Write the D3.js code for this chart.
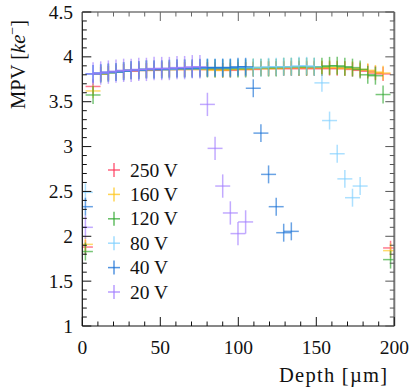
<!DOCTYPE html>
<html>
<head>
<meta charset="utf-8">
<script src="https://cdn.jsdelivr.net/npm/d3@7"></script>
<style>
  body { margin: 0; background: #fff; }
</style>
</head>
<body>
<svg id="chart" width="415" height="391" font-family="'Times New Roman', 'Liberation Serif', Tinos, 'DejaVu Serif', serif"></svg>
<script>
"use strict"

// depth bin centres [um]
const depthBins = [2.0, 6.9, 11.8, 16.7, 21.6, 26.5, 31.3, 36.2, 41.1, 46.0,
    50.9, 55.8, 60.7, 65.6, 70.5, 75.4, 80.2, 85.1, 90.0, 94.9,
    99.8, 104.7, 109.6, 114.5, 119.4, 124.3, 129.1, 134.0, 138.9, 143.8,
    148.7, 153.6, 158.5, 163.4, 168.3, 173.2, 178.1, 183.0, 187.9, 192.8, 197.6]
const depthErr = 4.8

const labels = ["250 V", "160 V", "120 V", "80 V", "40 V", "20 V"]
const colors = ["#ff3355", "#ffc61a", "#2fa82f", "#7fd0ff", "#1a72d6", "#a27cff"]
const mpvErr = [0.08, 0.08, 0.1, 0.1, 0.1, 0.13]

// MPV [ke-] per bin, null where the series has no point
const mpv250 = [1.88, 3.67, 3.81, 3.82, 3.83, 3.84, 3.84, 3.85, 3.85, 3.85,
    3.86, 3.86, 3.86, 3.86, 3.87, 3.86, 3.86, 3.86, 3.85, 3.85,
    3.86, 3.86, 3.86, 3.87, 3.87, 3.87, 3.87, 3.87, 3.87, 3.87,
    3.87, 3.87, 3.87, 3.87, 3.87, 3.86, 3.85, 3.84, 3.82, 3.81, 1.87]
const mpv160 = [1.91, 3.62, 3.81, 3.82, 3.83, 3.84, 3.85, 3.85, 3.85, 3.86,
    3.86, 3.86, 3.86, 3.86, 3.86, 3.86, 3.86, 3.85, 3.85, 3.86,
    3.86, 3.86, 3.87, 3.87, 3.87, 3.87, 3.88, 3.88, 3.88, 3.88,
    3.88, 3.88, 3.88, 3.88, 3.87, 3.87, 3.86, 3.85, 3.83, 3.82, 1.84]
const mpv120 = [1.83, 3.575, 3.81, 3.82, 3.83, 3.84, 3.85, 3.85, 3.86, 3.86,
    3.86, 3.86, 3.87, 3.87, 3.87, 3.87, 3.87, 3.87, 3.87, 3.87,
    3.87, 3.87, 3.88, 3.88, 3.88, 3.88, 3.89, 3.89, 3.89, 3.89,
    3.89, 3.89, 3.9, 3.9, 3.89, 3.88, 3.86, 3.8, 3.79, 3.58, 1.74]
const mpv80 = [2.49, 3.81, 3.82, 3.82, 3.83, 3.84, 3.85, 3.85, 3.86, 3.86,
    3.86, 3.86, 3.87, 3.87, 3.87, 3.87, 3.88, 3.88, 3.88, 3.88,
    3.88, 3.88, 3.88, 3.88, 3.89, 3.89, 3.89, 3.89, 3.9, 3.9,
    3.89, 3.71, 3.29, 2.92, 2.64, 2.43, 2.56, null, null, null, null]
const mpv40 = [2.33, 3.81, 3.82, 3.83, 3.83, 3.84, 3.85, 3.85, 3.86, 3.86,
    3.86, 3.87, 3.87, 3.87, 3.87, 3.88, 3.88, 3.88, 3.88, 3.88,
    3.89, 3.89, 3.65, 3.15, 2.69, 2.33, 2.04, 2.055, null, null,
    null, null, null, null, null, null, null, null, null, null, null]
const mpv20 = [2.10, 3.81, 3.82, 3.83, 3.84, 3.85, 3.85, 3.86, 3.86, 3.87,
    3.87, 3.87, 3.88, 3.88, 3.89, 3.89, 3.47, 2.98, 2.56, 2.26,
    2.03, 2.16, null, null, null, null, null, null, null, null,
    null, null, null, null, null, null, null, null, null, null, null]
const seriesValues = [mpv250, mpv160, mpv120, mpv80, mpv40, mpv20]

const xTicks = [0, 50, 100, 150, 200]
const yTicks = [1, 1.5, 2, 2.5, 3, 3.5, 4, 4.5]

const svg = d3.select("#chart")
const plotLeft = 82.3, plotRight = 394.3, plotTop = 12, plotBottom = 326

const x = d3.scaleLinear().domain([0, 200]).range([plotLeft, plotRight])
const y = d3.scaleLinear().domain([1, 4.5]).range([plotBottom, plotTop])

// error-bar crosses
const plot = svg.append("g")
seriesValues.forEach(function(vals, s) {
    const pts = vals.map((v, i) => ({ d: depthBins[i], v: v })).filter(p => p.v !== null)
    const g = plot.append("g")
        .attr("stroke", colors[s])
        .attr("stroke-opacity", 0.65)
        .attr("stroke-width", 1.5)
    g.selectAll(".h").data(pts).enter().append("line")
        .attr("x1", p => x(Math.max(0, p.d - depthErr)))
        .attr("x2", p => x(Math.min(200, p.d + depthErr)))
        .attr("y1", p => y(p.v)).attr("y2", p => y(p.v))
    g.selectAll(".v").data(pts).enter().append("line")
        .attr("x1", p => x(p.d)).attr("x2", p => x(p.d))
        .attr("y1", p => y(p.v - mpvErr[s]))
        .attr("y2", p => y(p.v + mpvErr[s]))
})

// frame and ticks
const frame = svg.append("g")
frame.append("line").attr("x1", plotLeft).attr("x2", plotRight).attr("y1", plotTop).attr("y2", plotTop)
    .attr("stroke", "#777").attr("stroke-width", 1.5)
frame.append("line").attr("x1", plotRight).attr("x2", plotRight).attr("y1", plotTop).attr("y2", plotBottom)
    .attr("stroke", "#777").attr("stroke-width", 2)
frame.append("line").attr("x1", plotLeft).attr("x2", plotLeft).attr("y1", plotTop).attr("y2", plotBottom)
    .attr("stroke", "#111").attr("stroke-width", 1.2)
frame.append("line").attr("x1", plotLeft).attr("x2", plotRight).attr("y1", plotBottom).attr("y2", plotBottom)
    .attr("stroke", "#111").attr("stroke-width", 1.2)

const xMinor = d3.range(0, 201, 10)
const yMinor = d3.range(10, 46).map(v => v / 10)

xMinor.forEach(function(t) {
    const len = t % 50 === 0 ? 9 : 4.5
    frame.append("line").attr("x1", x(t)).attr("x2", x(t))
        .attr("y1", plotBottom).attr("y2", plotBottom - len).attr("stroke", "#111")
    frame.append("line").attr("x1", x(t)).attr("x2", x(t))
        .attr("y1", plotTop).attr("y2", plotTop + len).attr("stroke", "#666")
})
yMinor.forEach(function(t) {
    const len = Math.round(t * 10) % 5 === 0 ? 9 : 4.5
    frame.append("line").attr("x1", plotLeft).attr("x2", plotLeft + len)
        .attr("y1", y(t)).attr("y2", y(t)).attr("stroke", "#111")
    frame.append("line").attr("x1", plotRight).attr("x2", plotRight - len)
        .attr("y1", y(t)).attr("y2", y(t)).attr("stroke", "#555")
})

svg.append("g").selectAll("text").data(xTicks).enter().append("text")
    .attr("x", d => x(d)).attr("y", 354)
    .attr("text-anchor", "middle").attr("font-size", 19.5).attr("fill", "#111")
    .text(d => d)
svg.append("g").selectAll("text").data(yTicks).enter().append("text")
    .attr("x", 73).attr("y", d => y(d) + 6.5)
    .attr("text-anchor", "end").attr("font-size", 19.5).attr("fill", "#111")
    .text(d => d)

svg.append("text").attr("x", 387).attr("y", 382)
    .attr("text-anchor", "end").attr("font-size", 20.5).attr("fill", "#111")
    .attr("textLength", 108).attr("lengthAdjust", "spacing")
    .text("Depth [\u00b5m]")

const yl = svg.append("text")
    .attr("transform", "translate(25,20) rotate(-90)")
    .attr("text-anchor", "end").attr("font-size", 20.5).attr("fill", "#111")
yl.append("tspan").text("MPV [")
yl.append("tspan").attr("font-style", "italic").text("ke")
yl.append("tspan").attr("font-size", 14).attr("dy", -8).text("\u2212")
yl.append("tspan").attr("dy", 8).text("]")

// legend
const legend = svg.append("g")
labels.forEach(function(lab, i) {
    const ly = 170 + i * 24.4
    const g = legend.append("g").attr("stroke", colors[i])
        .attr("stroke-opacity", 0.75).attr("stroke-width", 1.5)
    g.append("line").attr("x1", 108).attr("x2", 120).attr("y1", ly).attr("y2", ly)
    g.append("line").attr("x1", 114).attr("x2", 114).attr("y1", ly - 7).attr("y2", ly + 7)
    legend.append("text").attr("x", 130).attr("y", ly + 6.5)
        .attr("font-size", 19.5).attr("fill", "#111").text(lab)
})
</script>
</body>
</html>
